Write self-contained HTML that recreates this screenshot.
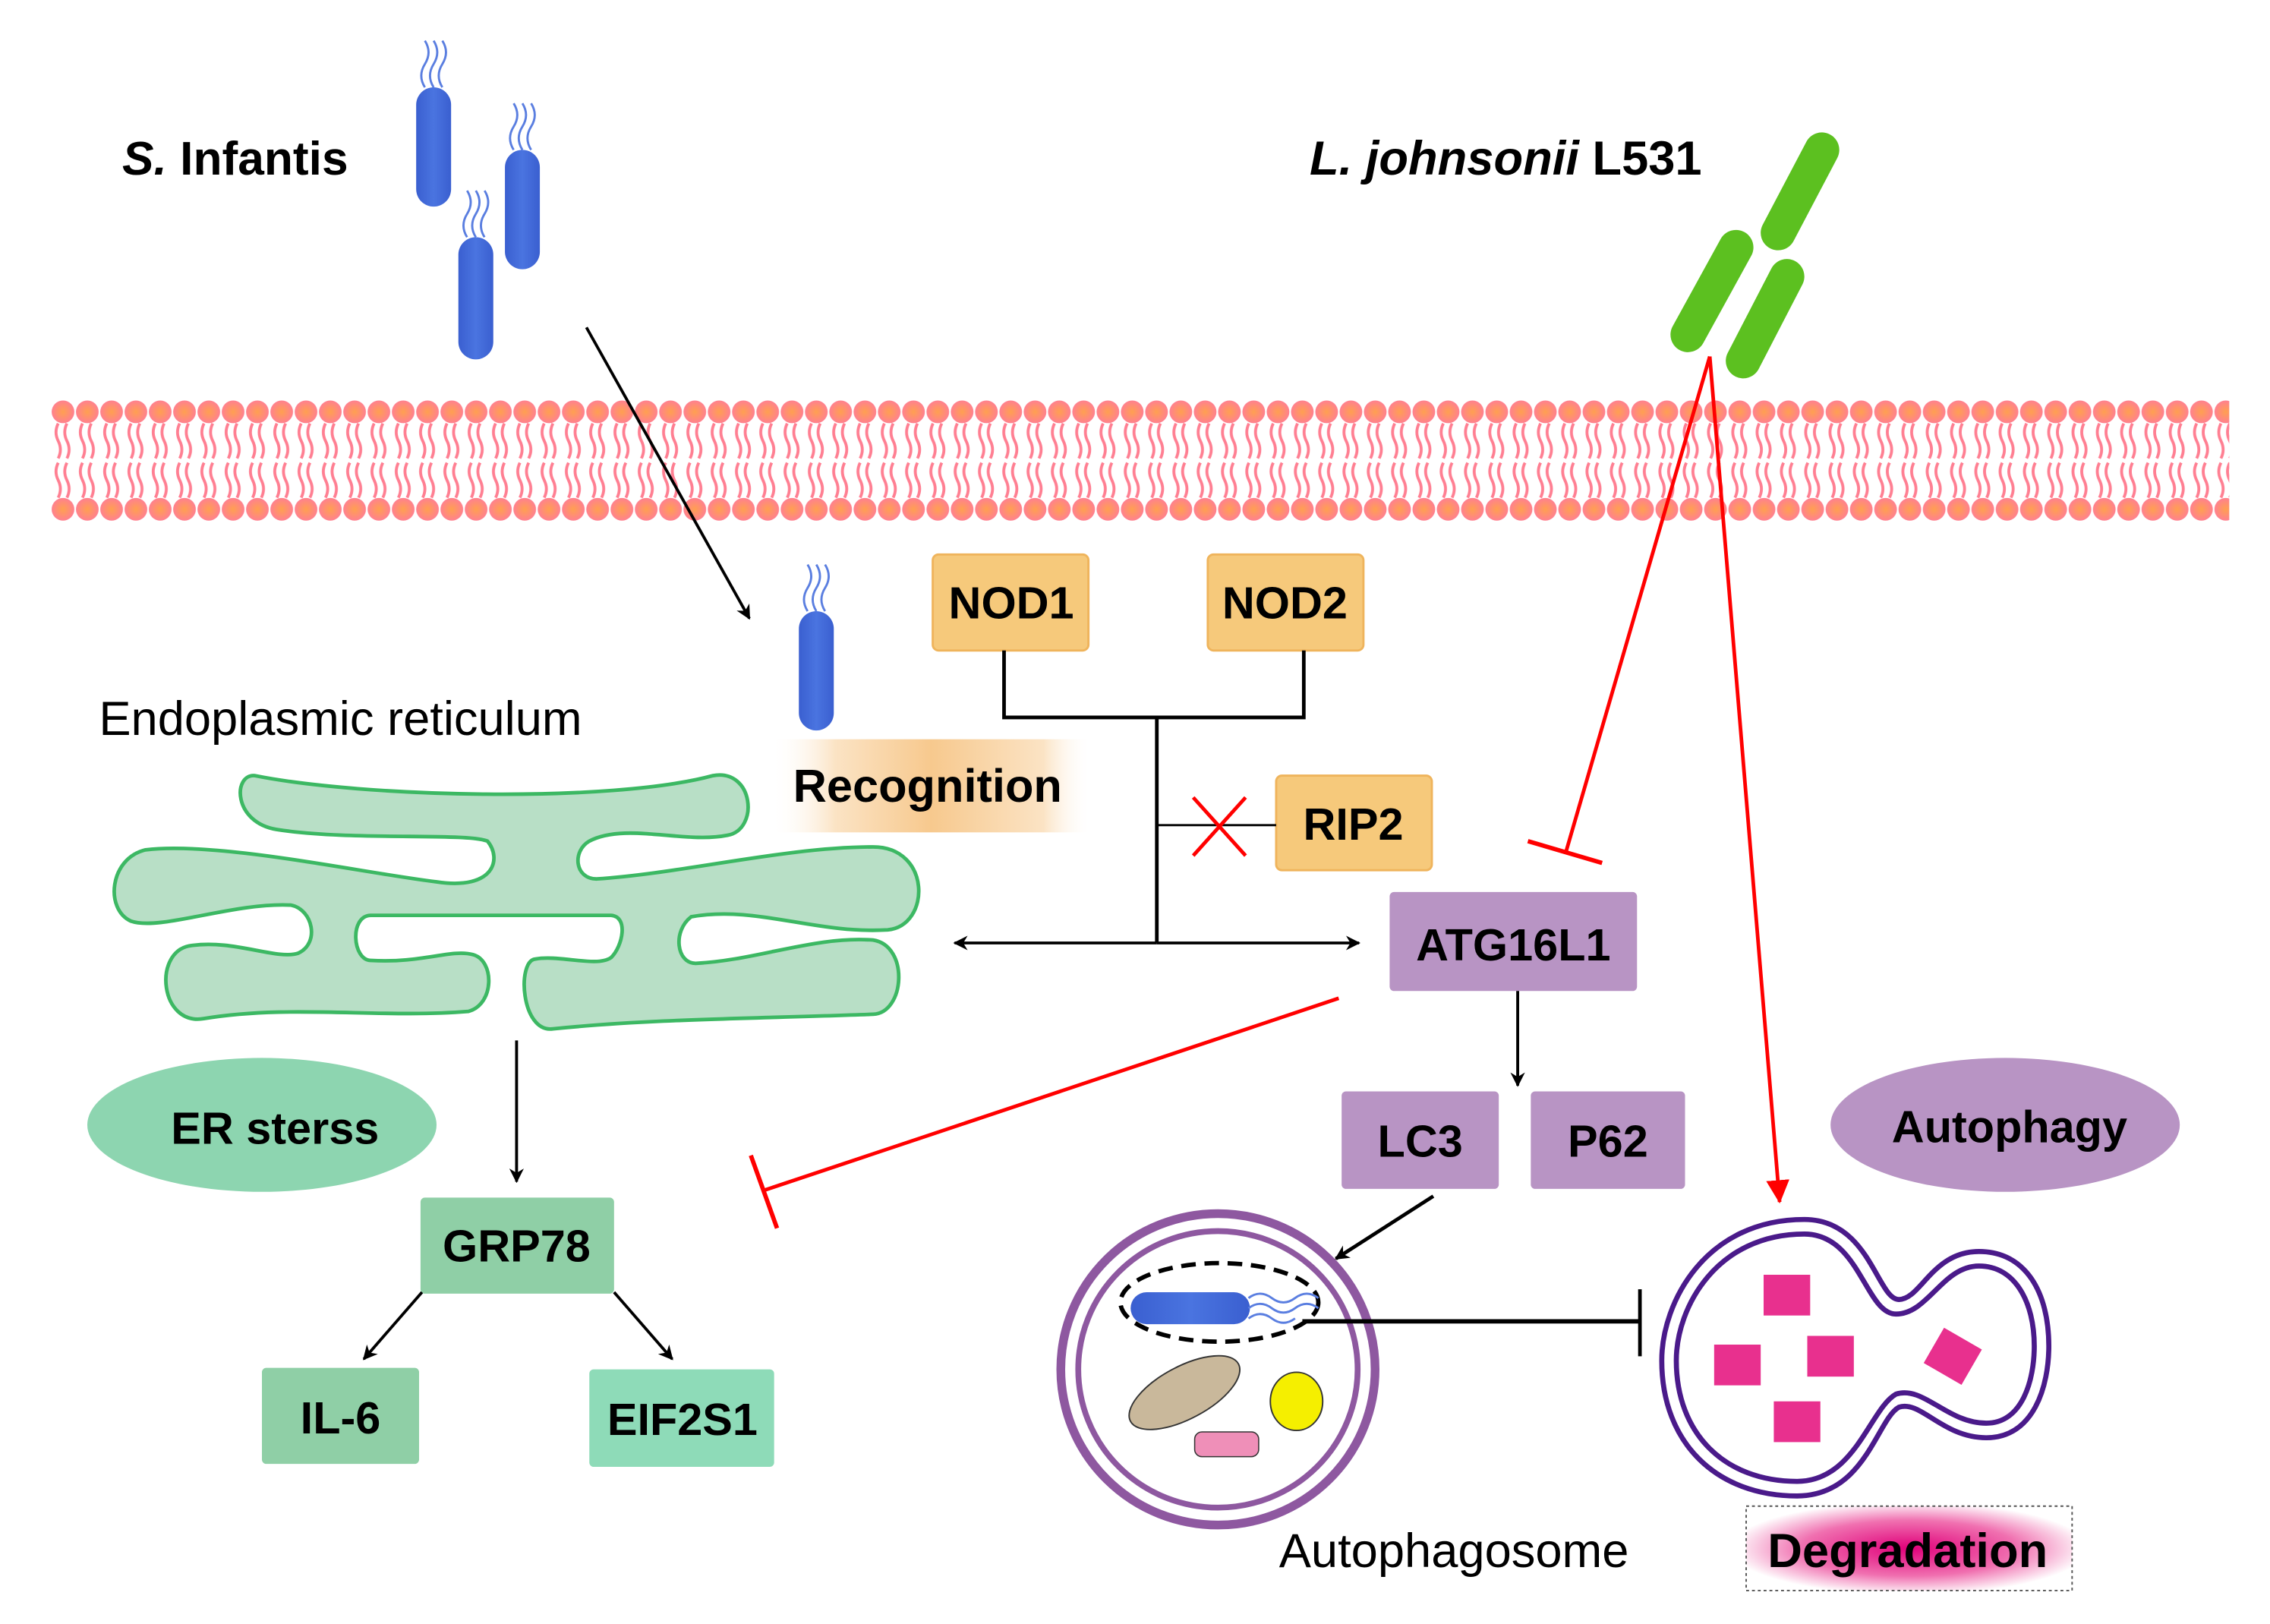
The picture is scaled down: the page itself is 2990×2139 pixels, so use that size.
<!DOCTYPE html>
<html><head><meta charset="utf-8"><style>
html,body{margin:0;padding:0;background:#fff;}
svg{display:block;}
text{font-family:"Liberation Sans",Arial,sans-serif;}
</style></head><body>
<svg width="2990" height="2139" viewBox="0 0 1560 1116" xmlns="http://www.w3.org/2000/svg">
<defs>
<radialGradient id="head" cx="0.5" cy="0.5" r="0.5">
<stop offset="0" stop-color="#ffa050"/><stop offset="1" stop-color="#ff8090"/>
</radialGradient>
<pattern id="mem" x="35" y="0" width="16.7" height="1116" patternUnits="userSpaceOnUse">
<circle cx="8.3" cy="283" r="7.8" fill="url(#head)"/>
<circle cx="8.3" cy="350" r="7.8" fill="url(#head)"/>
<path d="M5 291 q-3 6 0 12 q3 6 0 12 M11 291 q-3 6 0 12 q3 6 0 12 M5 342 q3 -6 0 -12 q-3 -6 0 -12 M11 342 q3 -6 0 -12 q-3 -6 0 -12" stroke="#ff7f92" stroke-width="2" fill="none"/>
</pattern>
<linearGradient id="rec" x1="0" x2="1">
<stop offset="0" stop-color="#fff" stop-opacity="0"/><stop offset="0.2" stop-color="#fbe3c4"/><stop offset="0.5" stop-color="#f7c98e"/><stop offset="0.85" stop-color="#fbe3c4"/><stop offset="1" stop-color="#fff" stop-opacity="0"/>
</linearGradient>
<radialGradient id="deg" cx="0.5" cy="0.5" r="0.55">
<stop offset="0" stop-color="#e0007a"/><stop offset="0.6" stop-color="#f070b0"/><stop offset="1" stop-color="#fff"/>
</radialGradient>
<linearGradient id="blue" x1="0" x2="1"><stop offset="0" stop-color="#3a5fd0"/><stop offset="0.5" stop-color="#4a74e0"/><stop offset="1" stop-color="#3a5fd0"/></linearGradient>
<marker id="ab" markerWidth="10" markerHeight="10" refX="9" refY="5" orient="auto" markerUnits="userSpaceOnUse"><path d="M0 0 L10 5 L0 10 L3 5z" fill="#000"/></marker>
<marker id="ar" markerWidth="16" markerHeight="20" refX="15" refY="8" orient="auto" markerUnits="userSpaceOnUse"><path d="M0 0 L16 8 L0 16z" fill="#f00"/></marker>
</defs>

<rect x="35" y="272" width="1497" height="90" fill="url(#mem)"/>

<text x="84" y="120" font-size="32.5" font-weight="bold"><tspan font-style="italic">S.</tspan> Infantis</text>
<text x="900" y="120" font-size="33" font-weight="bold"><tspan font-style="italic">L. johnsonii</tspan> L531</text>

<g fill="url(#blue)">
<rect x="286" y="60" width="24" height="82" rx="12"/>
<rect x="347" y="103" width="24" height="82" rx="12"/>
<rect x="315" y="163" width="24" height="84" rx="12"/>
<rect x="549" y="420" width="24" height="82" rx="12"/>
</g>
<g stroke="#5a7ee0" stroke-width="1.5" fill="none">
<path d="M292 60 q-5 -8 0 -16 q5 -8 0 -16 M298 60 q-5 -8 0 -16 q5 -8 0 -16 M304 60 q-5 -8 0 -16 q5 -8 0 -16"/>
<path d="M353 103 q-5 -8 0 -16 q5 -8 0 -16 M359 103 q-5 -8 0 -16 q5 -8 0 -16 M365 103 q-5 -8 0 -16 q5 -8 0 -16"/>
<path d="M321 163 q-5 -8 0 -16 q5 -8 0 -16 M327 163 q-5 -8 0 -16 q5 -8 0 -16 M333 163 q-5 -8 0 -16 q5 -8 0 -16"/>
<path d="M555 420 q-5 -8 0 -16 q5 -8 0 -16 M561 420 q-5 -8 0 -16 q5 -8 0 -16 M567 420 q-5 -8 0 -16 q5 -8 0 -16"/>
</g>

<g stroke="#5cc020" stroke-width="24" stroke-linecap="round">
<line x1="1252" y1="103" x2="1222" y2="160"/>
<line x1="1193" y1="170" x2="1160" y2="230"/>
<line x1="1228" y1="190" x2="1198" y2="248"/>
</g>

<line x1="403" y1="225" x2="515" y2="425" stroke="#000" stroke-width="2" marker-end="url(#ab)"/>

<rect x="530" y="508" width="220" height="64" fill="url(#rec)"/>
<text x="545" y="551" font-size="32" font-weight="bold">Recognition</text>

<g stroke="#efb45c" stroke-width="1.5" fill="#f6c97b">
<rect x="641" y="381" width="107" height="66" rx="4"/>
<rect x="830" y="381" width="107" height="66" rx="4"/>
<rect x="877" y="533" width="107" height="65" rx="4"/>
</g>
<g font-size="31" font-weight="bold" text-anchor="middle">
<text x="695" y="425">NOD1</text>
<text x="883" y="425">NOD2</text>
<text x="930" y="577">RIP2</text>
</g>
<path d="M690 447 V493 H896 V447 M795 493 V648" stroke="#000" stroke-width="2.5" fill="none"/>
<line x1="795" y1="567" x2="877" y2="567" stroke="#000" stroke-width="1.5"/>
<path d="M820 548 L856 588 M856 548 L820 588" stroke="#f00" stroke-width="2.5"/>
<line x1="795" y1="648" x2="656" y2="648" stroke="#000" stroke-width="2" marker-end="url(#ab)"/>
<line x1="795" y1="648" x2="934" y2="648" stroke="#000" stroke-width="2" marker-end="url(#ab)"/>

<g fill="#b894c4">
<rect x="955" y="613" width="170" height="68" rx="3"/>
<rect x="922" y="750" width="108" height="67" rx="3"/>
<rect x="1052" y="750" width="106" height="67" rx="3"/>
<ellipse cx="1378" cy="773" rx="120" ry="46"/>
</g>
<g font-size="31" font-weight="bold" text-anchor="middle">
<text x="1040" y="660">ATG16L1</text>
<text x="976" y="795">LC3</text>
<text x="1105" y="795">P62</text>
<text x="1381" y="785">Autophagy</text>
</g>
<line x1="1043" y1="681" x2="1043" y2="746" stroke="#000" stroke-width="2" marker-end="url(#ab)"/>
<line x1="985" y1="822" x2="918" y2="865" stroke="#000" stroke-width="2.5" marker-end="url(#ab)"/>

<line x1="1175" y1="245" x2="1076" y2="586" stroke="#f00" stroke-width="2.5"/>
<line x1="1050" y1="578" x2="1101" y2="593" stroke="#f00" stroke-width="3"/>
<line x1="1175" y1="245" x2="1223" y2="826" stroke="#f00" stroke-width="2.5" marker-end="url(#ar)"/>
<line x1="920" y1="686" x2="525" y2="818" stroke="#f00" stroke-width="2.5"/>
<line x1="516" y1="794" x2="534" y2="844" stroke="#f00" stroke-width="3"/>

<text x="68" y="505" font-size="33">Endoplasmic reticulum</text>
<path fill="#b8dfc6" stroke="#3cb863" stroke-width="2.5" d="M175,533
C250,548 420,552 490,533
C518,528 522,570 500,574
C470,580 430,565 405,578
C393,585 395,604 410,604
C470,600 540,582 600,582
C640,582 640,636 610,639
C560,642 520,622 475,630
C462,640 465,662 478,662
C520,660 560,643 600,646
C625,650 622,696 600,697
C520,700 450,700 380,707
C358,710 355,660 368,659
C385,656 410,665 420,658
C428,650 432,630 420,629
L255,629
C240,629 242,660 255,660
C290,662 310,652 325,656
C340,660 340,690 322,695
C260,700 200,690 140,700
C110,705 105,655 130,650
C160,645 190,660 205,655
C220,648 215,625 200,622
C160,620 110,640 90,633
C72,625 75,590 100,584
C150,578 250,600 300,606
C340,612 345,590 335,578
C320,572 240,578 190,570
C160,565 160,532 175,533 Z"/>

<line x1="355" y1="715" x2="355" y2="812" stroke="#000" stroke-width="2" marker-end="url(#ab)"/>
<ellipse cx="180" cy="773" rx="120" ry="46" fill="#8dd5b0"/>
<text x="189" y="786" font-size="31" font-weight="bold" text-anchor="middle">ER sterss</text>
<rect x="289" y="823" width="133" height="66" rx="3" fill="#8fcfa6"/>
<rect x="180" y="940" width="108" height="66" rx="3" fill="#8fcfa6"/>
<rect x="405" y="941" width="127" height="67" rx="3" fill="#8edbb8"/>
<g font-size="31" font-weight="bold" text-anchor="middle">
<text x="355" y="867">GRP78</text>
<text x="234" y="985">IL-6</text>
<text x="469" y="986">EIF2S1</text>
</g>
<line x1="290" y1="888" x2="250" y2="934" stroke="#000" stroke-width="2" marker-end="url(#ab)"/>
<line x1="422" y1="888" x2="462" y2="934" stroke="#000" stroke-width="2" marker-end="url(#ab)"/>

<ellipse cx="837" cy="941" rx="108" ry="107" fill="none" stroke="#8e58a0" stroke-width="6"/>
<ellipse cx="837" cy="941" rx="96" ry="95" fill="none" stroke="#8e58a0" stroke-width="4"/>
<ellipse cx="838" cy="895" rx="68" ry="27" fill="none" stroke="#000" stroke-width="3" stroke-dasharray="10 6"/>
<rect x="777" y="888" width="82" height="22" rx="11" fill="url(#blue)"/>
<path d="M858 892 q8 -6 16 0 q8 6 16 0 q8 -6 16 0 M858 899 q8 -6 16 0 q8 6 16 0 q8 -6 16 0 M858 906 q8 -6 16 0 q8 6 16 0" stroke="#5a7ee0" stroke-width="1.5" fill="none"/>
<ellipse cx="814" cy="957" rx="42" ry="18" transform="rotate(-28 814 957)" fill="#c9b89b" stroke="#333" stroke-width="1"/>
<ellipse cx="891" cy="963" rx="18" ry="20" fill="#f5ef00" stroke="#333" stroke-width="1"/>
<rect x="821" y="984" width="44" height="17" rx="5" fill="#ef8fb8" stroke="#333" stroke-width="0.8"/>
<line x1="895" y1="908" x2="1127" y2="908" stroke="#000" stroke-width="3"/>
<line x1="1127" y1="886" x2="1127" y2="932" stroke="#000" stroke-width="2.5"/>
<text x="879" y="1077" font-size="33">Autophagosome</text>

<g fill="none" stroke="#4a1a8a" stroke-width="3.5">
<path d="M1240,838 C1172,838 1142,895 1142,935 C1142,992 1180,1028 1235,1028 C1282,1028 1290,975 1305,967 C1320,962 1335,988 1365,988 C1398,988 1408,952 1408,925 C1408,888 1392,860 1360,860 C1328,860 1320,893 1305,893 C1290,893 1285,838 1240,838Z"/>
<path d="M1240,848 C1180,848 1152,898 1152,935 C1152,985 1185,1018 1235,1018 C1275,1018 1285,968 1303,958 C1322,952 1338,978 1365,978 C1390,978 1398,948 1398,925 C1398,895 1385,870 1360,870 C1335,870 1325,903 1303,903 C1282,903 1278,848 1240,848Z"/>
</g>
<g fill="#e8308e">
<rect x="1212" y="876" width="32" height="28"/>
<rect x="1178" y="924" width="32" height="28"/>
<rect x="1242" y="918" width="32" height="28"/>
<rect x="1219" y="963" width="32" height="28"/>
<rect x="1327" y="918" width="30" height="28" transform="rotate(30 1342 932)"/>
</g>

<rect x="1200" y="1035" width="224" height="58" fill="url(#deg)" stroke="#555" stroke-width="1" stroke-dasharray="2 2"/>
<text x="1311" y="1077" font-size="33" font-weight="bold" text-anchor="middle">Degradation</text>
</svg>
</body></html>
